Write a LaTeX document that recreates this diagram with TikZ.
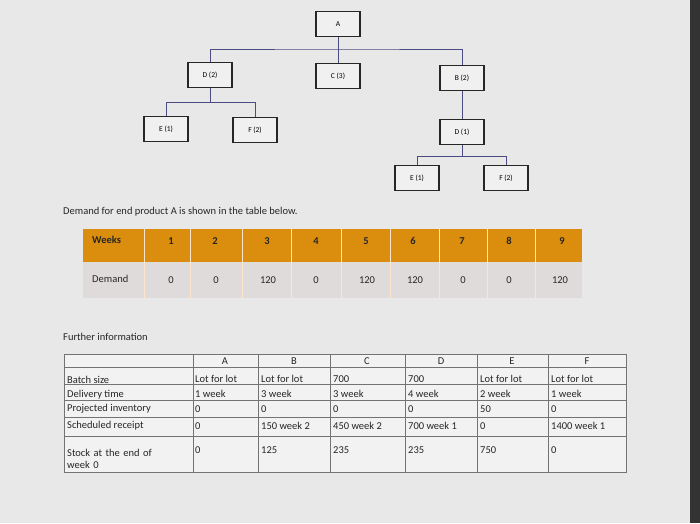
\documentclass[tikz,border=0pt]{standalone}
\usepackage{fontspec}
\setmainfont{Carlito}
\begin{document}
\begin{tikzpicture}[x=1pt,y=-1pt,
  bx/.style={draw=black!85,line width=1.3pt,fill=black!6,minimum width=44pt,minimum height=25pt,font=\fontsize{7.5}{8}\selectfont,inner sep=0pt},
  ln/.style={draw=blue!30!black!70,line width=0.9pt},
  tl/.style={draw=black!55,line width=0.6pt},
  tx/.style={font=\fontsize{10.5}{12}\selectfont,text=black!85,inner sep=0pt},
  cell/.style={tx,anchor=west}]
\fill[black!9] (0,0) rectangle (700,523);
\fill[black!80] (690,0) rectangle (700,523);
\useasboundingbox (0,0) rectangle (700,523);
% tree
\node[bx] (A) at (338,24) {A};
\node[bx] (D2) at (210,75) {D (2)};
\node[bx] (C3) at (338,76) {C (3)};
\node[bx] (B2) at (462,78) {B (2)};
\node[bx] (E1) at (166,129) {E (1)};
\node[bx] (F2) at (255,130) {F (2)};
\node[bx] (D1) at (462,132) {D (1)};
\node[bx] (E1b) at (417,178) {E (1)};
\node[bx] (F2b) at (506,178) {F (2)};
\draw[ln] (A.south) -- (C3.north);
\draw[ln] (D2.north) |- (338,49) -| (B2.north);
\draw[ln] (D2.south) -- (210,102) -| (E1.north);
\draw[ln] (210,102) -| (F2.north);
\draw[ln] (B2.south) -- (D1.north);
\draw[ln] (D1.south) -- (462,156) -| (E1b.north);
\draw[ln] (462,156) -| (F2b.north);
% texts
\node[tx,anchor=west] (t1) at (63,212) {Demand for end product A is shown in the table below.};
\node[tx,anchor=west] (t2) at (63,337) {Further information};
% weeks table
\fill[orange!75!yellow!85!black!95] (83,229) rectangle (582,262);
\fill[red!14!black!14] (83,262) rectangle (582,298);
\foreach \x in {144,190,242,291,341,390,439,487,535}{\draw[white!80!orange,line width=0.6pt] (\x,229) -- (\x,298);}
\node[cell,font=\fontsize{10.5}{12}\bfseries\selectfont] (wk) at (92,240) {Weeks};
\node[cell] (dm) at (92,279) {Demand};
\foreach \v/\c [count=\i] in {1/171,2/215,3/267,4/316,5/366,6/413,7/462,8/509,9/562}{\node[tx,font=\fontsize{10.5}{12}\bfseries\selectfont] (h\i) at (\c,241) {\v};}
\foreach \v/\c [count=\i] in {0/171,0/216,120/268,0/316,120/367,120/415,0/463,0/509,120/560}{\node[tx] (d\i) at (\c,280) {\v};}
% info table
\fill[black!5] (64,354) rectangle (626,472);
\draw[tl] (64,354) rectangle (626,472);
\foreach \x in {193,258,330,405,477,548}{\draw[tl] (\x,354) -- (\x,472);}
\foreach \y in {367,384,400,417,436}{\draw[tl] (64,\y) -- (626,\y);}
\foreach \v/\c [count=\i] in {A/225,B/294,C/367,D/441,E/512,F/587}{\node[tx] (c\i) at (\c,361) {\v};}
\node[cell] at (67,380) {Batch size};
\node[cell] at (67,395) {Delivery time};
\node[cell] at (67,409) {Projected inventory};
\node[cell] at (67,426) {Scheduled receipt};
\node[cell,align=left,text width=110pt] at (67,459) {Stock at the end of\\week 0};
\foreach \x/\a/\b/\c/\d/\e [count=\i] in {
 195/Lot for lot/1 week/0/0/0,
 261/Lot for lot/3 week/0/150 week 2/125,
 333/700/3 week/0/450 week 2/235,
 408/700/4 week/0/700 week 1/235,
 480/Lot for lot/2 week/50/0/750,
 551/Lot for lot/1 week/0/1400 week 1/0}{
 \node[cell] at (\x,379) {\a};
 \node[cell] at (\x,394) {\b};
 \node[cell] at (\x,409) {\c};
 \node[cell] at (\x,426) {\d};
 \node[cell] at (\x,450) {\e};
}
\end{tikzpicture}
\end{document}
